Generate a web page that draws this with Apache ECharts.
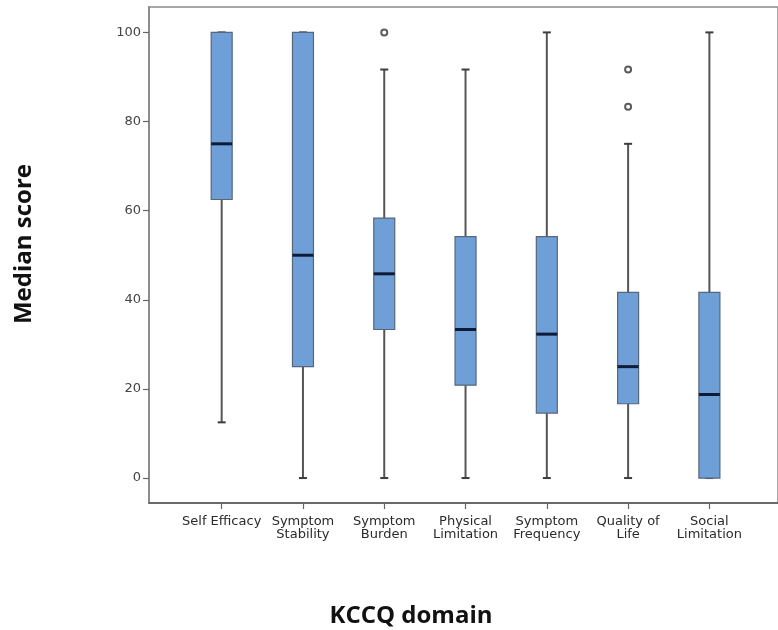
<!DOCTYPE html>
<html>
<head>
<meta charset="utf-8">
<script src="https://cdn.jsdelivr.net/npm/echarts@6/dist/echarts.min.js"></script>
<style>
  html, body { margin: 0; padding: 0; background: #fff; }
  #chart { width: 778px; height: 630px; }
</style>
</head>
<body>
<div id="chart"></div>
<script>
// KCCQ domain scores: five-number summaries per domain
const domains = ['Self Efficacy', 'Symptom\nStability', 'Symptom\nBurden', 'Physical\nLimitation',
                 'Symptom\nFrequency', 'Quality of\nLife', 'Social\nLimitation'];
const lowWhisker  = [12.5,  0,     0,     0,     0,     0,     0];
const lowerQuart  = [62.5,  25,    33.33, 20.83, 14.58, 16.67, 0];
const medians     = [75,    50,    45.83, 33.33, 32.29, 25,    18.75];
const upperQuart  = [100,   100,   58.33, 54.17, 54.17, 41.67, 41.67];
const highWhisker = [100,   100,   91.67, 91.67, 100,   75,    100];
// outliers: [domain index, score]
const outlierDomain = [2, 5, 5];
const outlierScore  = [100, 91.67, 83.33];
const yTicks = [0, 20, 40, 60, 80, 100];

const boxData = domains.map((d, i) =>
  [i, lowWhisker[i], lowerQuart[i], medians[i], upperQuart[i], highWhisker[i]]);
const outlierData = outlierDomain.map((d, i) => [d, outlierScore[i]]);

const BOX_W = 21, CAP_W = 8;

function renderBox(params, api) {
  const x = api.value(0);
  const pMin = api.coord([x, api.value(1)]);
  const pQ1  = api.coord([x, api.value(2)]);
  const pMed = api.coord([x, api.value(3)]);
  const pQ3  = api.coord([x, api.value(4)]);
  const pMax = api.coord([x, api.value(5)]);
  const cx = pMed[0];
  const whisker = { stroke: '#555', lineWidth: 2 };
  const cap = { stroke: '#3c3c3c', lineWidth: 2 };
  return {
    type: 'group',
    children: [
      { type: 'line', shape: { x1: cx, y1: pMin[1], x2: cx, y2: pQ1[1] }, style: whisker },
      { type: 'line', shape: { x1: cx, y1: pQ3[1], x2: cx, y2: pMax[1] }, style: whisker },
      { type: 'line', shape: { x1: cx - CAP_W / 2, y1: pMin[1], x2: cx + CAP_W / 2, y2: pMin[1] }, style: cap },
      { type: 'line', shape: { x1: cx - CAP_W / 2, y1: pMax[1], x2: cx + CAP_W / 2, y2: pMax[1] }, style: cap },
      { type: 'rect', shape: { x: cx - BOX_W / 2, y: pQ3[1], width: BOX_W, height: pQ1[1] - pQ3[1] },
        style: { fill: '#6ea0d7', stroke: '#56667c', lineWidth: 1.2 } },
      { type: 'line', shape: { x1: cx - BOX_W / 2, y1: pMed[1], x2: cx + BOX_W / 2, y2: pMed[1] },
        style: { stroke: '#0e1c3a', lineWidth: 3 } }
    ]
  };
}

const chart = echarts.init(document.getElementById('chart'), null, { renderer: 'canvas' });
chart.setOption({
  animation: false,
  backgroundColor: '#fff',
  grid: { left: 149, right: -3, top: 7, bottom: 127, show: true,
          borderColor: '#8c8c8c', borderWidth: 1.5, backgroundColor: 'transparent' },
  xAxis: {
    type: 'value', min: -0.894, max: 6.844,
    splitLine: { show: false },
    axisLine: { show: true, onZero: false, lineStyle: { color: '#555', width: 1.5 } },
    axisTick: { show: true, customValues: [0, 1, 2, 3, 4, 5, 6], length: 6, lineStyle: { color: '#666', width: 1.2 } },
    axisLabel: {
      customValues: [0, 1, 2, 3, 4, 5, 6],
      formatter: v => domains[Math.round(v)],
      fontFamily: 'DejaVu Sans', fontSize: 13, color: '#2a2a2a', lineHeight: 13, margin: 12
    }
  },
  yAxis: {
    type: 'value', min: -5.6, max: 105.7,
    splitLine: { show: false },
    axisLine: { show: true, onZero: false, lineStyle: { color: '#8c8c8c', width: 2 } },
    axisTick: { show: true, customValues: yTicks, length: 6, lineStyle: { color: '#666', width: 1.2 } },
    axisLabel: { customValues: yTicks, fontFamily: 'DejaVu Sans', fontSize: 13, color: '#444', margin: 8 }
  },
  series: [
    { type: 'custom', renderItem: renderBox, data: boxData, encode: { x: 0, y: [1, 2, 3, 4, 5] }, z: 2 },
    { type: 'scatter', data: outlierData, symbol: 'emptyCircle', symbolSize: 6, z: 3,
      itemStyle: { color: '#333', borderColor: '#333', borderWidth: 1.5 } }
  ],
  graphic: [
    { type: 'text', x: 24, y: 244, rotation: Math.PI / 2,
      style: { text: 'Median score', font: 'bold 24px "Open Sans"', fill: '#111', align: 'center', verticalAlign: 'middle' } },
    { type: 'text', x: 411, y: 616,
      style: { text: 'KCCQ domain', font: 'bold 24px "Open Sans"', fill: '#111', align: 'center', verticalAlign: 'middle' } }
  ]
});
</script>
</body>
</html>
